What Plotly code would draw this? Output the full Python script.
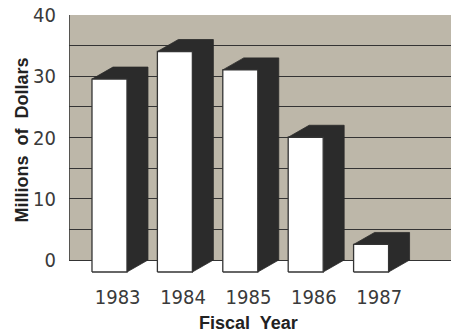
import plotly.graph_objects as go

# Funding by fiscal year (millions of dollars)
years = ["1983", "1984", "1985", "1986", "1987"]
values = [31.5, 36.0, 33.0, 22.0, 4.5]
y_ticks = [0, 10, 20, 30, 40]

# 3-D bar geometry in axis units
BAR_W = 0.535      # width of the front face (category units)
DEPTH_X = 0.321    # receding offset to the right (category units)
DEPTH_Y = 1.96     # receding offset upward (value units)

WALL = "#bdb7a9"
DARK = "#2b2b2b"
LINE = "#343434"

dark_x, dark_y = [], []
front_x, front_y = [], []
for i, v in enumerate(values):
    xl, xr = i - BAR_W / 2, i + BAR_W / 2
    yb, yt = -DEPTH_Y, v - DEPTH_Y
    # top face + right side as one dark silhouette
    dark_x += [xl, xl + DEPTH_X, xr + DEPTH_X, xr + DEPTH_X, xr, xr, xl, None]
    dark_y += [yt, v, v, 0, yb, yt, yt, None]
    # white front face
    front_x += [xl, xr, xr, xl, xl, None]
    front_y += [yb, yb, yt, yt, yb, None]

fig = go.Figure()
fig.add_trace(go.Scatter(
    x=dark_x, y=dark_y, mode="lines", fill="toself",
    fillcolor=DARK, line=dict(color=DARK, width=0.8),
    hoverinfo="skip", showlegend=False,
))
fig.add_trace(go.Scatter(
    x=front_x, y=front_y, mode="lines", fill="toself",
    fillcolor="white", line=dict(color=LINE, width=1.3),
    hoverinfo="skip", showlegend=False,
))

x_min, x_max = -0.619, 5.222

# back wall
fig.add_shape(type="rect", xref="x", yref="y", x0=x_min, x1=x_max, y0=0, y1=40,
              fillcolor=WALL, line=dict(width=0), layer="below")
fig.add_shape(type="line", xref="x", yref="y", x0=x_min, x1=x_min, y0=0, y1=40,
              line=dict(color=LINE, width=1.5), layer="below")

narrow = "Liberation Sans Narrow, DejaVu Sans Condensed, Arial Narrow, sans-serif"
bold = "Liberation Sans, Arial, sans-serif"

fig.update_layout(
    width=451, height=335,
    margin=dict(l=69, r=0, t=15, b=62),
    paper_bgcolor="white", plot_bgcolor="white",
    xaxis=dict(
        range=[x_min, x_max], showgrid=False, zeroline=False, showline=False,
        tickmode="array", tickvals=[i + 0.125 for i in range(len(years))],
        ticktext=years, ticks="outside", ticklen=6, tickcolor="rgba(0,0,0,0)",
        tickfont=dict(family=narrow, size=20, color="#3a3a3a"),
    ),
    yaxis=dict(
        range=[-2.12, 40], tickmode="array", tickvals=y_ticks,
        showgrid=True, gridcolor=LINE, gridwidth=1.3, zeroline=False,
        showline=False, ticks="outside", ticklen=8, tickcolor="rgba(0,0,0,0)",
        tickfont=dict(family=narrow, size=20, color="#3a3a3a"),
        minor=dict(dtick=5, tick0=0, showgrid=True, gridcolor=LINE, gridwidth=1.3),
    ),
    annotations=[
        dict(text="<b>Millions\u00a0 of\u00a0 Dollars</b>", xref="paper", yref="paper",
             x=-0.122, y=0.5155, textangle=-90, showarrow=False,
             xanchor="center", yanchor="middle",
             font=dict(family=bold, size=18, color="#222222")),
        dict(text="<b>Fiscal\u00a0 Year</b>", xref="paper", yref="paper",
             x=0.4686, y=-0.194, showarrow=False,
             xanchor="center", yanchor="middle",
             font=dict(family=bold, size=18, color="#222222")),
    ],
)

fig.write_html("out.html")
